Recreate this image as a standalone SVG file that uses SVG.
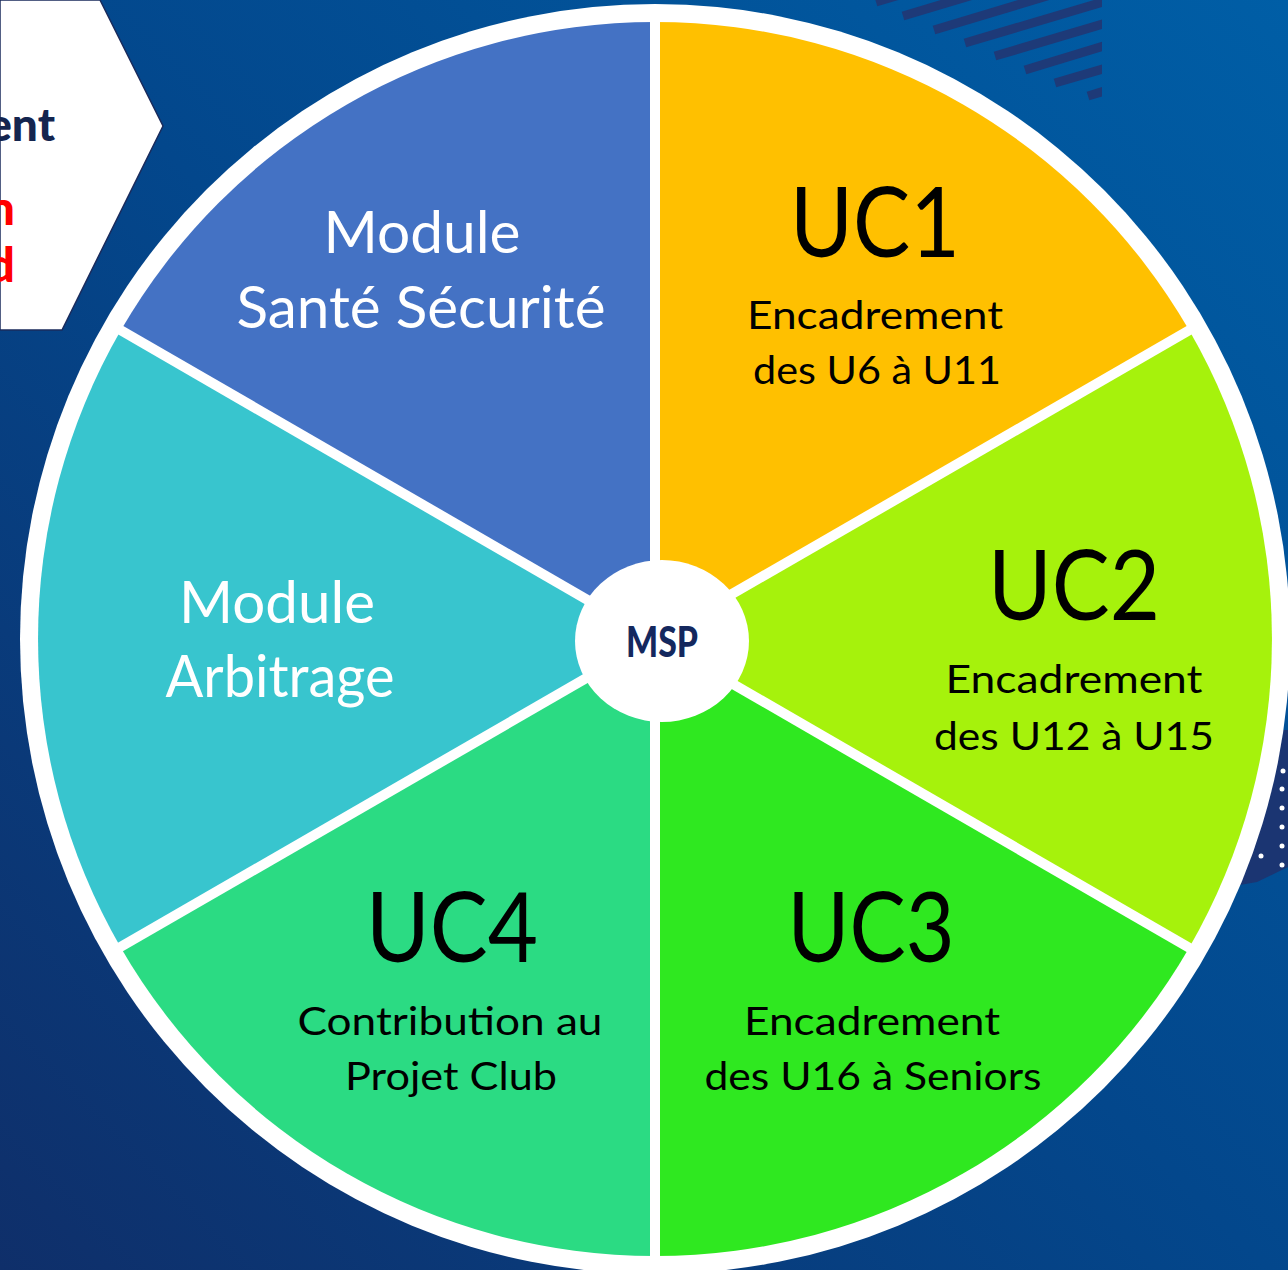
<svg xmlns="http://www.w3.org/2000/svg" width="1288" height="1270" viewBox="0 0 1288 1270">
  <defs>
    <linearGradient id="bg" x1="0" y1="1270" x2="1288" y2="0" gradientUnits="userSpaceOnUse">
      <stop offset="0" stop-color="#0F2F6A"/>
      <stop offset="0.5" stop-color="#03478C"/>
      <stop offset="1" stop-color="#005EA6"/>
    </linearGradient>
    <clipPath id="stripeClip">
      <rect x="840" y="0" width="262" height="110"/>
    </clipPath>
    <style>
      .lbl { font-family: Lato, "Open Sans", "Liberation Sans", sans-serif; text-anchor: middle; }
      .mod { fill: #FFFFFF; font-size: 58px; }
      .uc { fill: #000000; font-size: 96px; }
      .sub { fill: #000000; font-size: 38px; }
      .gap { stroke: #FFFFFF; stroke-width: 10; }
      .stripe { stroke: #1E3A78; stroke-width: 9; }
      .dot { fill: #FFFFFF; }
      .red { font-family: Lato, "Liberation Sans", sans-serif; font-weight: 900; font-size: 48px; fill: #FF0000; text-anchor: end; }
    </style>
  </defs>

  <!-- background -->
  <rect x="0" y="0" width="1288" height="1270" fill="url(#bg)"/>

  <!-- decorative stripes top right -->
  <g id="stripes" clip-path="url(#stripeClip)">
    <line class="stripe" x1="876" y1="2" x2="1130" y2="-74"/>
    <line class="stripe" x1="903" y1="16" x2="1130" y2="-52"/>
    <line class="stripe" x1="934" y1="30" x2="1130" y2="-29"/>
    <line class="stripe" x1="965" y1="43" x2="1130" y2="-6"/>
    <line class="stripe" x1="995" y1="56" x2="1130" y2="16"/>
    <line class="stripe" x1="1025" y1="70" x2="1130" y2="38"/>
    <line class="stripe" x1="1055" y1="83" x2="1130" y2="61"/>
    <line class="stripe" x1="1088" y1="96" x2="1130" y2="83"/>
  </g>

  <!-- dark band with dots on the right -->
  <g id="dots">
    <polygon points="1240,730 1288,730 1288,867 1257,882 1240,885" fill="#1B3572"/>
    <circle class="dot" cx="1283" cy="771" r="2.5"/>
    <circle class="dot" cx="1282" cy="789" r="2.5"/>
    <circle class="dot" cx="1282" cy="808" r="2.5"/>
    <circle class="dot" cx="1282" cy="827" r="2.5"/>
    <circle class="dot" cx="1282" cy="846" r="2.5"/>
    <circle class="dot" cx="1282" cy="865" r="2.5"/>
    <circle class="dot" cx="1261" cy="856" r="2.5"/>
  </g>

  <!-- left white panel -->
  <g id="panel">
    <polygon points="0,0 100,0 163,126 62,330 0,330" fill="#FFFFFF" stroke="#1A2B5C" stroke-width="1.5"/>
    <text x="55" y="141" font-family="Lato, 'Liberation Sans', sans-serif" font-weight="900" font-size="46" fill="#14254F" text-anchor="end">ent</text>
    <text class="red" x="15" y="225">n</text>
    <text class="red" x="15" y="282">d</text>
  </g>

  <!-- outer white ring -->
  <circle cx="655" cy="639" r="635" fill="#FFFFFF"/>

  <g id="sante">
    <path d="M655,639 L120.7,330.5 A617,617 0 0 1 655,22 Z" fill="#4472C4"/>
    <text class="lbl mod" x="422" y="253" textLength="197" lengthAdjust="spacingAndGlyphs">Module</text>
    <text class="lbl mod" x="421" y="328" textLength="369" lengthAdjust="spacingAndGlyphs">Santé Sécurité</text>
  </g>

  <g id="uc1">
    <path d="M655,639 L655,22 A617,617 0 0 1 1189.3,330.5 Z" fill="#FFC000"/>
    <text class="lbl uc" x="875" y="257" textLength="170" lengthAdjust="spacingAndGlyphs">UC1</text>
    <text class="lbl sub" x="875" y="329" textLength="256" lengthAdjust="spacingAndGlyphs">Encadrement</text>
    <text class="lbl sub" x="877" y="384" textLength="248" lengthAdjust="spacingAndGlyphs">des U6 à U11</text>
  </g>

  <g id="uc2">
    <path d="M655,639 L1189.3,330.5 A617,617 0 0 1 1189.3,947.5 Z" fill="#A6F20C"/>
    <text class="lbl uc" x="1074" y="620" textLength="172" lengthAdjust="spacingAndGlyphs">UC2</text>
    <text class="lbl sub" x="1074" y="693" textLength="257" lengthAdjust="spacingAndGlyphs">Encadrement</text>
    <text class="lbl sub" x="1074" y="750" textLength="280" lengthAdjust="spacingAndGlyphs">des U12 à U15</text>
  </g>

  <g id="uc3">
    <path d="M655,639 L1189.3,947.5 A617,617 0 0 1 655,1256 Z" fill="#2FE820"/>
    <text class="lbl uc" x="871" y="962" textLength="167" lengthAdjust="spacingAndGlyphs">UC3</text>
    <text class="lbl sub" x="872" y="1035" textLength="256" lengthAdjust="spacingAndGlyphs">Encadrement</text>
    <text class="lbl sub" x="873" y="1090" textLength="337" lengthAdjust="spacingAndGlyphs">des U16 à Seniors</text>
  </g>

  <g id="uc4">
    <path d="M655,639 L655,1256 A617,617 0 0 1 120.7,947.5 Z" fill="#2BDB83"/>
    <text class="lbl uc" x="452" y="962" textLength="172" lengthAdjust="spacingAndGlyphs">UC4</text>
    <text class="lbl sub" x="450" y="1035" textLength="305" lengthAdjust="spacingAndGlyphs">Contribution au</text>
    <text class="lbl sub" x="451" y="1090" textLength="212" lengthAdjust="spacingAndGlyphs">Projet Club</text>
  </g>

  <g id="arbitrage">
    <path d="M655,639 L120.7,947.5 A617,617 0 0 1 120.7,330.5 Z" fill="#38C5CE"/>
    <text class="lbl mod" x="277" y="623" textLength="196" lengthAdjust="spacingAndGlyphs">Module</text>
    <text class="lbl mod" x="280" y="697" textLength="229" lengthAdjust="spacingAndGlyphs">Arbitrage</text>
  </g>

  <!-- white separators -->
  <g id="connectors">
    <line class="gap" x1="655" y1="10" x2="655" y2="1268"/>
    <line class="gap" x1="1200" y1="324" x2="110" y2="953"/>
    <line class="gap" x1="1200" y1="954" x2="110" y2="324"/>
  </g>

  <g id="msp">
    <ellipse cx="662" cy="641" rx="87" ry="81" fill="#FFFFFF"/>
    <text x="662" y="657" font-family="Lato, 'Liberation Sans', sans-serif" font-weight="900" font-size="42" fill="#14285E" text-anchor="middle" textLength="72" lengthAdjust="spacingAndGlyphs">MSP</text>
  </g>
</svg>
